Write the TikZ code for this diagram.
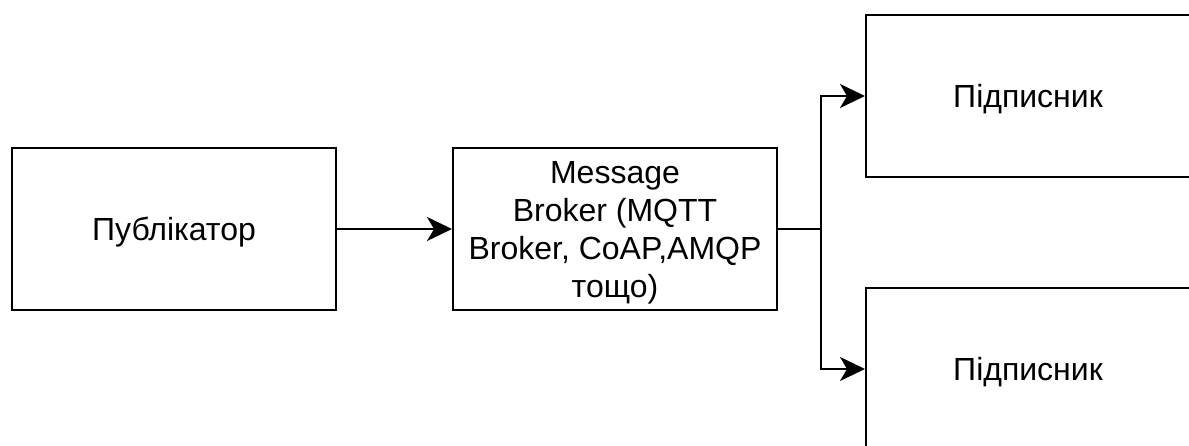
\documentclass[tikz,border=0pt]{standalone}
\usepackage{fontspec}
\setmainfont{Liberation Sans}
\usetikzlibrary{arrows.meta}
% lower the label a little while keeping its box size for centring
\newcommand{\boxtext}[1]{\raisebox{-4pt}[\height][\depth]{\begin{tabular}{@{}c@{}}#1\end{tabular}}}
\begin{document}
\begin{tikzpicture}[x=1pt,y=-1pt,
  box/.style={draw=black, line width=2pt, fill=white, minimum width=324pt, minimum height=162pt,
    inner sep=0pt, align=center, font=\fontsize{32}{38}\selectfont},
  conn/.style={draw=black, line width=2pt, -{Stealth[length=25pt,width=24pt,inset=7pt]}}]
  \useasboundingbox (0,0) rectangle (1189,446);
  \clip (0,0) rectangle (1189,446);
  \node[box] (pub) at (174,229) {\boxtext{Публікатор}};
  \node[box] (broker) at (615,229) {\boxtext{Message\\Broker (MQTT\\Broker, CoAP,AMQP\\тощо)}};
  \node[box] (sub1) at (1028,96) {\boxtext{Підписник}};
  \node[box] (sub2) at (1028,369) {\boxtext{Підписник}};
  \coordinate (branch) at (821,229);
  \draw[conn] (pub) -- (broker);
  \draw[line width=2pt] (broker.east) -- (branch);
  \draw[conn] (branch) |- (sub1.west);
  \draw[conn] (branch) |- (sub2.west);
\end{tikzpicture}
\end{document}
